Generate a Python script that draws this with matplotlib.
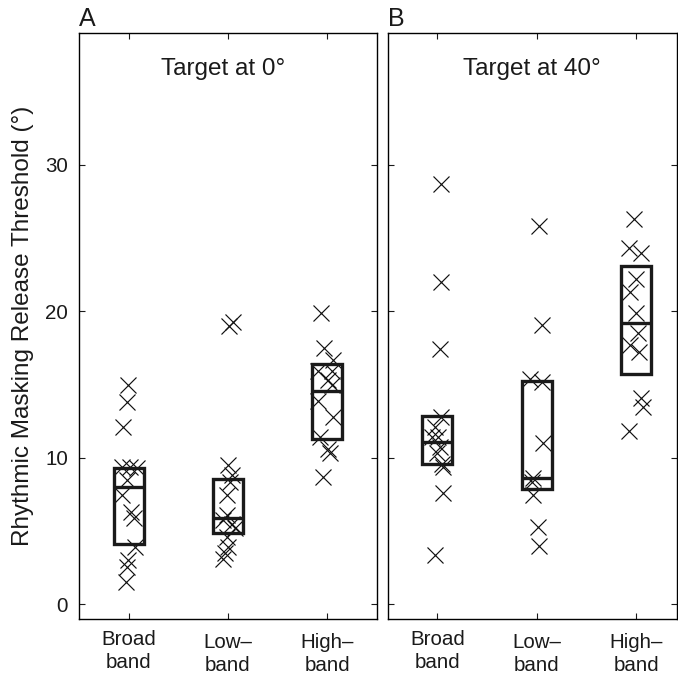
import matplotlib
matplotlib.use("Agg")
import matplotlib.pyplot as plt
import matplotlib.transforms as mtransforms
import numpy as np

plt.rcParams['font.family'] = ['Liberation Sans', 'DejaVu Sans']

# ---------------- data ----------------
categories = ["Broad\nband", "Low\u2013\nband", "High\u2013\nband"]
panel_letters = ["A", "B"]
panel_titles = ["Target at 0\u00b0", "Target at 40\u00b0"]
ylabel = "Rhythmic Masking Release Threshold (\u00b0)"
yticks = [0, 10, 20, 30]

# Panel A individual thresholds (values) and horizontal jitter (offsets)
A_broad = [15.0, 13.8, 12.1, 9.35, 9.35, 9.3, 8.5, 7.45, 6.3, 5.9, 3.9, 3.0, 2.55, 1.5]
A_broad_dx = [-0.01, -0.02, -0.06, -0.07, 0.01, 0.08, -0.02, -0.07, 0.02, 0.05, 0.06, -0.01, -0.02, -0.03]
A_low = [19.0, 19.25, 9.5, 8.8, 8.36, 7.45, 6.1, 5.75, 5.5, 5.2, 4.6, 3.9, 3.5, 3.1]
A_low_dx = [0.01, 0.05, 0.0, 0.04, 0.02, -0.01, -0.01, -0.05, 0.04, 0.07, -0.01, 0.0, -0.03, -0.05]
A_high = [19.9, 17.5, 16.7, 15.9, 15.9, 15.3, 15.0, 13.9, 12.8, 11.4, 10.6, 10.3, 8.7]
A_high_dx = [-0.06, -0.03, 0.06, -0.09, 0.05, 0.01, 0.05, -0.09, 0.06, -0.07, 0.01, 0.03, -0.04]

# Panel B
B_broad = [28.7, 22.0, 17.4, 12.8, 12.1, 11.4, 11.4, 10.75, 10.3, 9.6, 9.4, 7.6, 3.35]
B_broad_dx = [0.04, 0.04, 0.03, 0.04, -0.02, 0.01, -0.05, 0.03, 0.0, 0.05, 0.06, 0.06, -0.02]
B_low = [25.8, 19.07, 15.4, 15.2, 11.0, 8.6, 8.36, 7.45, 5.3, 4.0]
B_low_dx = [0.02, 0.05, -0.07, 0.05, 0.06, -0.04, -0.05, -0.04, 0.01, 0.02]
B_high = [26.3, 24.3, 24.0, 22.2, 21.35, 19.9, 18.5, 17.7, 17.25, 14.06, 13.5, 11.8]
B_high_dx = [-0.02, -0.07, 0.05, 0.0, -0.06, 0.0, 0.02, -0.06, 0.03, 0.05, 0.07, -0.07]

# Box summaries (lower quartile, median, upper quartile)
A_q1 = [4.1, 4.9, 11.3]
A_med = [8.0, 5.9, 14.55]
A_q3 = [9.3, 8.55, 16.4]
B_q1 = [9.57, 7.84, 15.7]
B_med = [11.1, 8.63, 19.23]
B_q3 = [12.85, 15.26, 23.1]

panels = [
    dict(vals=[A_broad, A_low, A_high], dx=[A_broad_dx, A_low_dx, A_high_dx],
         q1=A_q1, med=A_med, q3=A_q3),
    dict(vals=[B_broad, B_low, B_high], dx=[B_broad_dx, B_low_dx, B_high_dx],
         q1=B_q1, med=B_med, q3=B_q3),
]

# ---------------- figure ----------------
W, H = 678, 676
fig = plt.figure(figsize=(W / 100, H / 100), dpi=100)

axA = fig.add_axes([79 / W, (H - 619) / H, (377 - 79) / W, (619 - 33) / H])
axB = fig.add_axes([387.6 / W, (H - 619) / H, (676.5 - 387.6) / W, (619 - 33) / H])
axes = [axA, axB]
xlims = [(0.5, 3.5), (0.5, 3.0 + (676.5 - 636.3) / 99.5)]

txt_color = '#1a1a1a'
box_w = 0.3
for i, (ax, p) in enumerate(zip(axes, panels)):
    xpos = np.arange(1, len(categories) + 1)
    for k, (v, d) in enumerate(zip(p["vals"], p["dx"])):
        ax.plot(xpos[k] + np.array(d), v, linestyle='none', marker='x',
                markersize=11.5, markeredgewidth=0.85, color='#111111', zorder=3)
    q1 = np.array(p["q1"]); q3 = np.array(p["q3"]); med = np.array(p["med"])
    ax.bar(xpos, q3 - q1, bottom=q1, width=box_w, fill=False,
           edgecolor='#1a1a1a', linewidth=2.4, zorder=4)
    ax.hlines(med, xpos - box_w / 2, xpos + box_w / 2, color='#1a1a1a',
              linewidth=2.4, zorder=4)

    ax.set_xlim(*xlims[i])
    ax.set_ylim(-1, 39)
    ax.set_xticks(xpos)
    ax.set_xticklabels(categories, linespacing=1.25)
    ax.set_yticks(yticks)
    if i == 0:
        ax.set_yticklabels([str(t) for t in yticks])
        ax.set_ylabel(ylabel, fontsize=17.5, labelpad=8, color=txt_color)
    else:
        ax.set_yticklabels([])
    ax.tick_params(direction='in', length=4.3, width=0.8, top=True, right=True,
                   labelsize=14.8, colors=txt_color, pad=8)
    # the two hyphenated labels sit a few pixels lower in the original
    for j, lab in enumerate(ax.get_xticklabels()):
        if j > 0:
            lab.set_transform(lab.get_transform() +
                              mtransforms.ScaledTranslation(0, -3 / 100, fig.dpi_scale_trans))
    for s in ax.spines.values():
        s.set_linewidth(1.0)
        s.set_color('black')
    ax.text(1.95, 36.15, panel_titles[i], ha='center', va='baseline',
            fontsize=17.5, color=txt_color)

fig.text(79 / W, (H - 26) / H, panel_letters[0], fontsize=18, ha='left', va='baseline', color=txt_color)
fig.text(388 / W, (H - 26) / H, panel_letters[1], fontsize=18, ha='left', va='baseline', color=txt_color)

fig.savefig("out.png", dpi=100)
